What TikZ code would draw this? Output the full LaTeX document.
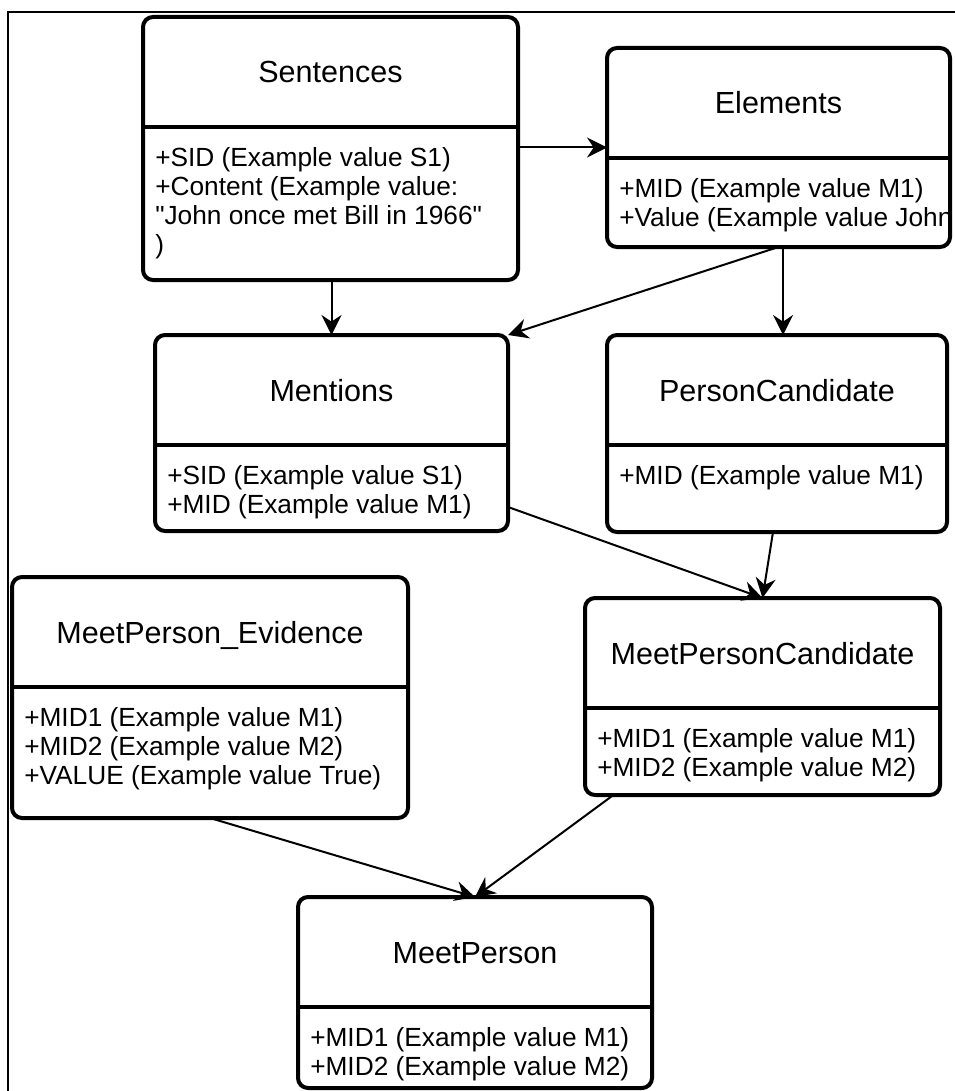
\documentclass[tikz,border=0pt]{standalone}
\usepackage{fontspec}
\setmainfont{Liberation Sans}
\usetikzlibrary{arrows.meta,calc}
\tikzset{
  umlbox/.style={draw, line width=3pt, rounded corners=7.5pt, fill=white, inner sep=0pt, outer sep=0pt},
  divline/.style={line width=3pt},
  titletxt/.style={font=\fontsize{22.9}{27}\selectfont, inner sep=0pt, anchor=base},
  bodytxt/.style={font=\fontsize{19.7}{21.9}\selectfont, inner sep=0pt, align=left, anchor=north west},
  arr/.style={line width=1.5pt, -{Stealth[length=15pt,width=15pt,inset=5pt]}},
  frameline/.style={line width=1.3pt},
}
\newcommand\dq{\XeTeXglyph\XeTeXcharglyph"22\relax}
% name, x1, y1, x2, y2, ydiv, title, body
\newcommand\umlclass[8]{%
  \node[umlbox, anchor=north west, minimum width={(#4-#2)*0.75pt}, minimum height={(#5-#3)*0.75pt}] (#1) at (#2,#3) {};
  \draw[divline] (#1.west |- 0,#6) -- (#1.east |- 0,#6);
  \node[titletxt] (#1-title) at ({(#2+#4)/2},{(#3+#6)/2+11}) {#7};
  \node[bodytxt] (#1-body) at ({#2+12},{#6+20}) {#8};
}
\begin{document}
\begin{tikzpicture}[x=0.75pt,y=-0.75pt]
\useasboundingbox (0,0) rectangle (955,1091);
\draw[frameline] (8,1095) -- (8,12) -- (960,12);

\umlclass{sent}{143}{17}{518}{280}{127}{Sentences}{+SID (Example value S1)\\+Content (Example value:\\\dq John once met Bill in 1966\dq\\)}
\umlclass{elm}{607}{48}{950}{247}{158}{Elements}{+MID (Example value M1)\\+Value (Example value John}
\umlclass{ment}{155}{335}{508}{531}{445}{Mentions}{+SID (Example value S1)\\+MID (Example value M1)}
\umlclass{pc}{607}{335}{947}{532}{445}{PersonCandidate}{+MID (Example value M1)}
\umlclass{mpe}{12}{577}{408}{818}{687}{MeetPerson\_Evidence}{+MID1 (Example value M1)\\+MID2 (Example value M2)\\+VALUE (Example value True)}
\umlclass{mpc}{585}{598}{940}{795}{708}{MeetPersonCandidate}{+MID1 (Example value M1)\\+MID2 (Example value M2)}
\umlclass{mp}{298}{897}{652}{1088}{1007}{MeetPerson}{+MID1 (Example value M1)\\+MID2 (Example value M2)}

\draw[arr] (sent.east |- elm.west) -- (elm.west);
\draw[arr] (ment.north |- sent.south) -- (ment.north);
\draw[arr] (elm.south) -- (ment.north east);
\draw[arr] ([xshift=3.4pt]elm.south) -- ([xshift=3.4pt]elm.south |- pc.north);
\draw[arr] ([yshift=18pt]ment.south east) -- (mpc.north);
\draw[arr] ([xshift=-3pt]pc.south) -- (mpc.north);
\draw[arr] (mpe.south) -- (mp.north);
\draw[arr] ($(mpc.south west)!0.08!(mpc.south east)$) -- (mp.north);
\end{tikzpicture}
\end{document}
